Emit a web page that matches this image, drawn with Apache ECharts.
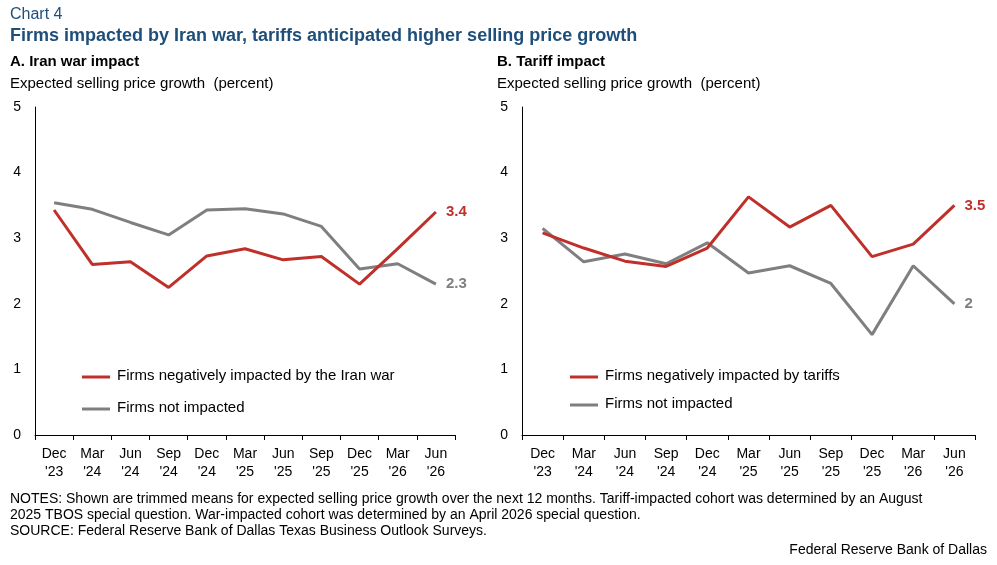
<!DOCTYPE html>
<html><head><meta charset="utf-8">
<script src="https://cdn.jsdelivr.net/npm/echarts@6/dist/echarts.min.js"></script>
<style>body{margin:0}#c{width:997px;height:565px}</style></head>
<body><div id="c"></div>
<script>
var categories = ["Dec\n'23","Mar\n'24","Jun\n'24","Sep\n'24","Dec\n'24","Mar\n'25","Jun\n'25","Sep\n'25","Dec\n'25","Mar\n'26","Jun\n'26"];
var warImpacted = [3.43, 2.6, 2.64, 2.25, 2.73, 2.84, 2.67, 2.72, 2.3, 2.84, 3.4];
var warNot = [3.54, 3.44, 3.24, 3.05, 3.43, 3.45, 3.37, 3.18, 2.53, 2.61, 2.3];
var tariffImpacted = [3.08, 2.85, 2.65, 2.57, 2.85, 3.63, 3.17, 3.5, 2.72, 2.91, 3.5];
var tariffNot = [3.15, 2.64, 2.76, 2.61, 2.93, 2.47, 2.58, 2.31, 1.53, 2.58, 2.0];
var yTicks = [0, 1, 2, 3, 4, 5];

var RED = '#c0302b', GRAY = '#7f7f7f', F = 'Liberation Sans, Arial, sans-serif';
var chart = echarts.init(document.getElementById('c'));

function xAxis(i){
  return {gridIndex:i, type:'category', data:categories, boundaryGap:true,
    axisLine:{lineStyle:{color:'#000'}}, axisTick:{show:true, lineStyle:{color:'#000'}},
    axisLabel:{color:'#000', fontSize:14, fontFamily:F, lineHeight:18, interval:0, margin:10}};
}
function yAxis(i){
  return {gridIndex:i, type:'value', min:yTicks[0], max:yTicks[yTicks.length-1], interval:1,
    axisLine:{show:true, lineStyle:{color:'#000'}}, axisTick:{show:false}, splitLine:{show:false},
    axisLabel:{color:'#000', fontSize:14, fontFamily:F, margin:14}};
}
function line(data, color, i, name){
  return {type:'line', name:name, xAxisIndex:i, yAxisIndex:i, data:data, symbol:'none',
    lineStyle:{color:color, width:3}, itemStyle:{color:color},
    endLabel:{show:true, color:color, fontWeight:'bold', fontSize:15, fontFamily:F, distance:10,
      formatter:function(p){return String(p.value);}}};
}
function txt(l, t, s, size, color, bold){
  return {type:'text', left:l, top:t, style:{text:s, fontSize:size, fill:color, fontFamily:F, fontWeight:bold?'bold':'normal', lineHeight:size+2}};
}
function legItem(x, y, color, s){
  return [{type:'line', shape:{x1:x, y1:y, x2:x+28, y2:y}, style:{stroke:color, lineWidth:3}},
    {type:'text', left:x+35, top:y-9, style:{text:s, fontSize:15, fill:'#000', fontFamily:F}}];
}

chart.setOption({
  animation:false,
  grid:[{left:35, top:107, width:420, height:328},{left:522, top:107, width:453, height:328}],
  xAxis:[xAxis(0), xAxis(1)],
  yAxis:[yAxis(0), yAxis(1)],
  series:[line(warNot, GRAY, 0, 'Firms not impacted'), line(warImpacted, RED, 0, 'Firms negatively impacted by the Iran war'),
    line(tariffNot, GRAY, 1, 'Firms not impacted'), line(tariffImpacted, RED, 1, 'Firms negatively impacted by tariffs')],
  graphic:[
    txt(10, 6, 'Chart 4', 16, '#1f4e79', false),
    txt(10, 26, 'Firms impacted by Iran war, tariffs anticipated higher selling price growth', 18, '#1f4e79', true),
    txt(10, 53, 'A. Iran war impact', 15, '#000', true),
    txt(10, 75, 'Expected selling price growth  (percent)', 15, '#000', false),
    txt(497, 53, 'B. Tariff impact', 15, '#000', true),
    txt(497, 75, 'Expected selling price growth  (percent)', 15, '#000', false),
    txt(10, 491, 'NOTES: Shown are trimmed means for expected selling price growth over the next 12 months. Tariff-impacted cohort was determined by an August\n2025 TBOS special question. War-impacted cohort was determined by an April 2026 special question.\nSOURCE: Federal Reserve Bank of Dallas Texas Business Outlook Surveys.', 14, '#000', false),
    {type:'text', right:10, top:543, style:{text:'Federal Reserve Bank of Dallas', fontSize:14, fill:'#000', fontFamily:F}}
  ].concat(legItem(82, 377, RED, 'Firms negatively impacted by the Iran war'),
    legItem(82, 409, GRAY, 'Firms not impacted'),
    legItem(570, 377, RED, 'Firms negatively impacted by tariffs'),
    legItem(570, 405, GRAY, 'Firms not impacted'))
});
</script></body></html>
